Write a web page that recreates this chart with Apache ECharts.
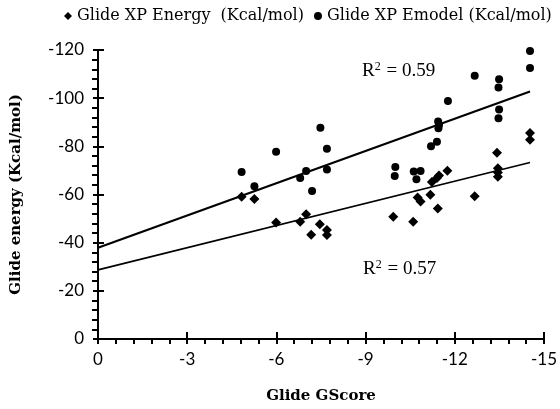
<!DOCTYPE html>
<html>
<head>
<meta charset="utf-8">
<script src="https://cdn.jsdelivr.net/npm/echarts@6/dist/echarts.min.js"></script>
<style>html,body{margin:0;padding:0;background:#fff;}#c{width:560px;height:409px;}</style>
</head>
<body>
<div id="c"></div>
<script>
// Glide XP Emodel (circles): [GScore, value]
var emodelData = [
  [-4.83, -69.3], [-5.26, -63.4], [-5.99, -77.7], [-6.80, -66.9], [-7.00, -69.8],
  [-7.20, -61.5], [-7.48, -87.7], [-7.70, -79.0], [-7.70, -70.4], [-10.00, -71.4],
  [-9.98, -67.7], [-10.62, -69.5], [-10.85, -69.8], [-10.71, -66.3], [-11.20, -80.0],
  [-11.40, -81.9], [-11.45, -87.5], [-11.47, -88.9], [-11.44, -90.3], [-11.77, -98.8],
  [-12.67, -109.3], [-13.49, -107.9], [-13.47, -104.4], [-13.49, -95.3], [-13.47, -91.7],
  [-14.53, -112.5], [-14.53, -119.6]
];
// Glide XP Energy (diamonds): [GScore, value]
var energyData = [
  [-4.83, -59.1], [-5.26, -58.1], [-5.99, -48.4], [-6.80, -48.7], [-7.00, -51.8],
  [-7.17, -43.3], [-7.46, -47.6], [-7.70, -45.3], [-7.70, -43.2], [-9.93, -50.8],
  [-10.60, -48.7], [-10.75, -58.8], [-10.85, -57.1], [-11.18, -59.9], [-11.43, -54.2],
  [-11.23, -65.2], [-11.40, -66.9], [-11.47, -67.9], [-11.75, -69.9], [-12.67, -59.3],
  [-13.42, -77.3], [-13.45, -70.9], [-13.45, -69.1], [-13.45, -67.4], [-14.53, -85.5],
  [-14.53, -82.7]
];
// Linear trend lines (end points)
var trendX = [0, -14.53];
var emodelTrend = [-37.9, -102.8];
var energyTrend = [-28.7, -73.3];
var seriesNames = ['Glide XP Energy  (Kcal/mol)', 'Glide XP Emodel (Kcal/mol)'];
var r2Labels = ['R{sup|2} = 0.59', 'R{sup|2} = 0.57'];

function pairs(xs, ys) { return xs.map(function (x, i) { return [x, ys[i]]; }); }

var chart = echarts.init(document.getElementById('c'), null, { renderer: 'canvas' });
var tickFont = { fontFamily: 'Lato', fontSize: 17, color: '#000' };
var titleFont = { fontFamily: 'DejaVu Serif', fontWeight: 'bold', fontSize: 15, color: '#000' };
var rich = { sup: { fontFamily: 'Liberation Serif', fontSize: 12, verticalAlign: 'top', padding: [0, 1, 8, 0], color: '#000' } };

chart.setOption({
  animation: false,
  backgroundColor: '#fff',
  grid: { left: 98, right: 14, top: 50, bottom: 61 },
  legend: {
    top: 8, left: 64, width: 496, orient: 'horizontal', padding: 0,
    data: [
      { name: seriesNames[0], icon: 'diamond' },
      { name: seriesNames[1], icon: 'circle' }
    ],
    itemWidth: 8, itemHeight: 8, itemGap: 10,
    textStyle: { fontFamily: 'DejaVu Serif', fontSize: 16, color: '#000' }
  },
  xAxis: [{
    type: 'value', min: -15, max: 0, interval: 3, inverse: true, position: 'bottom',
    axisLine: { show: true, onZero: false, lineStyle: { color: '#000', width: 2 } },
    axisTick: { show: true, length: 5, lineStyle: { color: '#000', width: 2 } },
    minorTick: { show: true, splitNumber: 5, length: 5, lineStyle: { color: '#000', width: 2 } },
    splitLine: { show: false },
    axisLabel: Object.assign({ margin: 12 }, tickFont),
    name: 'Glide GScore', nameLocation: 'middle', nameGap: 50, nameTextStyle: titleFont
  }, {
    type: 'value', min: -15, max: 0, interval: 3, inverse: true, position: 'bottom',
    axisLine: { show: false },
    axisTick: { show: true, inside: true, length: 7, lineStyle: { color: '#000', width: 2 } },
    axisLabel: { show: false }, splitLine: { show: false }
  }],
  yAxis: [{
    type: 'value', min: -120, max: 0, interval: 20, inverse: true, position: 'left',
    axisLine: { show: true, onZero: false, lineStyle: { color: '#000', width: 2 } },
    axisTick: { show: true, length: 5, lineStyle: { color: '#000', width: 2 } },
    minorTick: { show: true, splitNumber: 5, length: 6, lineStyle: { color: '#000', width: 2 } },
    splitLine: { show: false },
    axisLabel: Object.assign({ margin: 14 }, tickFont),
    name: 'Glide energy (Kcal/mol)', nameLocation: 'middle', nameGap: 74, nameRotate: 90,
    nameTextStyle: titleFont
  }, {
    type: 'value', min: -120, max: 0, interval: 20, inverse: true, position: 'left',
    axisLine: { show: false },
    axisTick: { show: true, inside: true, length: 6, lineStyle: { color: '#000', width: 2 } },
    axisLabel: { show: false }, splitLine: { show: false }
  }],
  series: [
    {
      name: seriesNames[0], type: 'scatter', symbol: 'diamond', symbolSize: 10,
      itemStyle: { color: '#000', opacity: 1 }, data: energyData, z: 3
    },
    {
      name: seriesNames[1], type: 'scatter', symbol: 'circle', symbolSize: 8,
      itemStyle: { color: '#000', opacity: 1 }, data: emodelData, z: 3
    },
    {
      name: 'emodelTrend', type: 'line', showSymbol: false, symbol: 'none', silent: true,
      lineStyle: { color: '#000', width: 2.2 }, data: pairs(trendX, emodelTrend), z: 2
    },
    {
      name: 'energyTrend', type: 'line', showSymbol: false, symbol: 'none', silent: true,
      lineStyle: { color: '#000', width: 1.6 }, data: pairs(trendX, energyTrend), z: 2
    }
  ],
  graphic: [
    { type: 'text', left: 362, top: 61, style: { text: r2Labels[0], rich: rich, font: '19px "Liberation Serif"', fill: '#000' } },
    { type: 'text', left: 363, top: 259, style: { text: r2Labels[1], rich: rich, font: '19px "Liberation Serif"', fill: '#000' } }
  ]
});
</script>
</body>
</html>
